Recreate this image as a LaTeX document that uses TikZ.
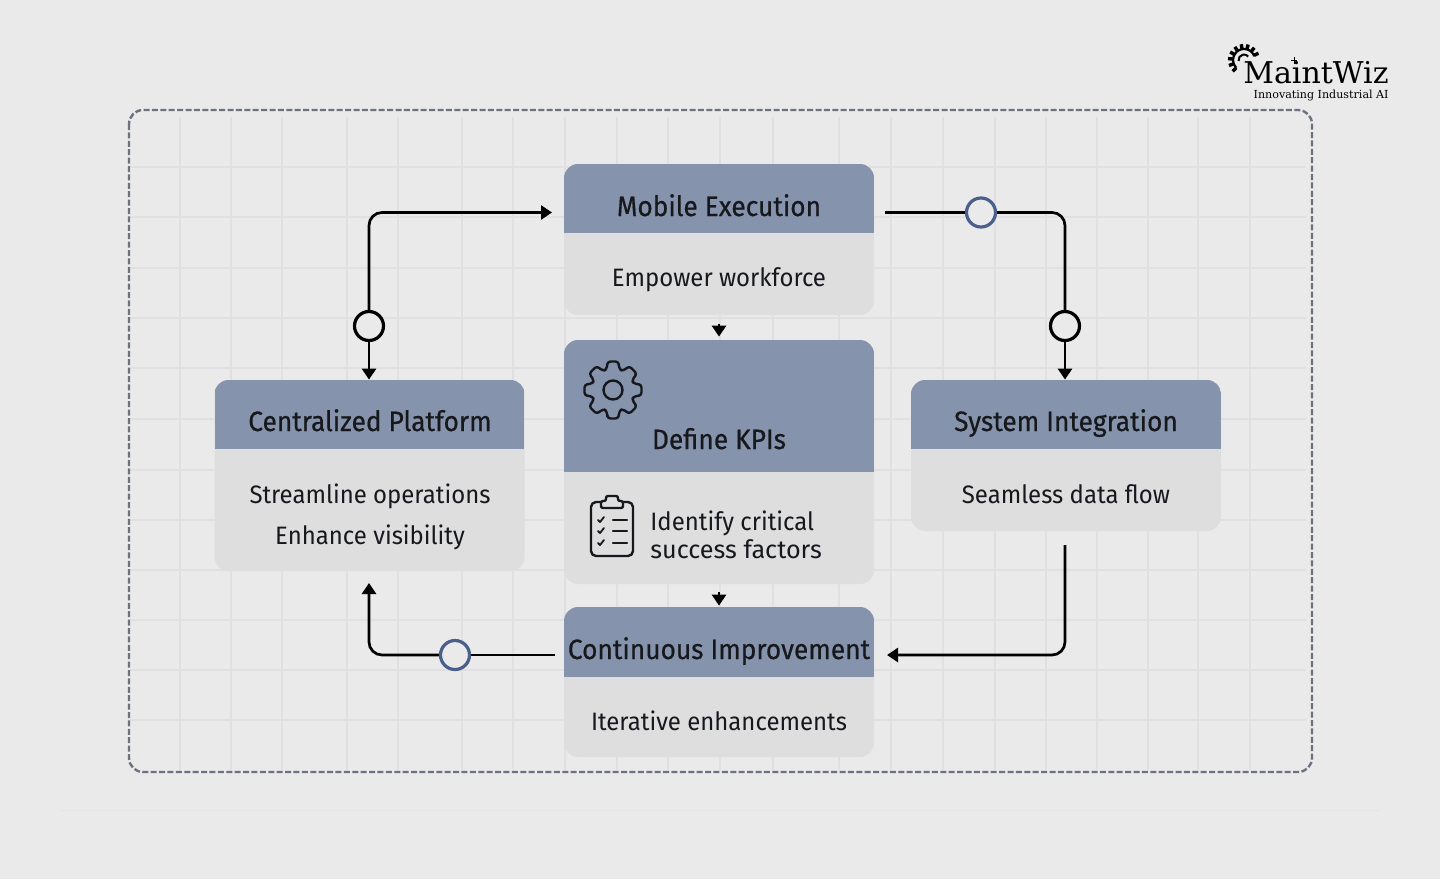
\documentclass[tikz,border=0pt]{standalone}
\usepackage{fontspec}
\setmainfont[FakeStretch=0.95]{Fira Sans}
\newfontfamily\logofont{DejaVu Serif}
\newfontfamily\headfont[FakeBold=0.5,FakeStretch=0.94]{Fira Sans}
\definecolor{pagegrey}{HTML}{EAEAEB}
\definecolor{gridgrey}{HTML}{E0E0E2}
\definecolor{framegrey}{HTML}{6C7280}
\definecolor{headblue}{HTML}{8593AD}
\definecolor{bodygrey}{HTML}{DEDEDF}
\definecolor{inkblack}{HTML}{16181C}
\definecolor{ringblue}{HTML}{4A5F8C}
\usetikzlibrary{arrows.meta}
\tikzset{
  card/.style 2 args={rectangle, rounded corners=7pt, fill=bodygrey, inner sep=0pt, minimum width=155pt, minimum height=#1,
    path picture={\fill[headblue, sharp corners] (path picture bounding box.north west) rectangle ([yshift=-#2]path picture bounding box.north east);}},
  headtext/.style={font=\headfont\fontsize{14}{16}\selectfont, text=inkblack, inner sep=0pt, anchor=base},
  bodytext/.style={font=\fontsize{12.6}{14}\selectfont, text=inkblack, inner sep=0pt, anchor=base},
  flow/.style={line width=1.35pt, draw=black, rounded corners=6.5pt, -{Triangle[length=5.5pt,width=7pt]}},
  wire/.style={line width=1.35pt, draw=black, rounded corners=6.5pt},
  ring/.style={circle, draw=black, fill=pagegrey, line width=1.6pt, minimum size=14.5pt, inner sep=0pt},
  bluering/.style={ring, draw=ringblue},
  icon/.style={line width=1.2pt, draw=inkblack, line join=round, line cap=round}
}
\begin{document}
\begin{tikzpicture}[x=0.5pt, y=-0.5pt]
\useasboundingbox (0,0) rectangle (1440,879);
\fill[pagegrey] (0,0) rectangle (1440,879);
\draw[gridgrey!50!pagegrey, line width=0.5pt] (60,810) -- (1380,810);

% grid
\foreach \gx in {180,231,282,347,398,462,513,565,617,668,720,773,839,891,943,995,1046,1097,1148,1198,1250}
  \draw[gridgrey, line width=0.6pt] (\gx,117) -- (\gx,770);
\foreach \gy in {167,217,268,318,368,419,470,520,570,620,670,720}
  \draw[gridgrey, line width=0.6pt] (130,\gy) -- (1306,\gy);

\draw[framegrey, line width=1.2pt, dash pattern=on 3pt off 1.2pt, rounded corners=7pt] (129,110) rectangle (1312,772);

% cards
\node[card={75.5pt}{34.5pt}] (mobile) at (719,239.5) {};
\node[card={122pt}{66pt}] (kpi) at (719,462) {};
\node[card={75pt}{35pt}] (improve) at (719,682) {};
\node[card={95.5pt}{34.5pt}] (platform) at (369.5,475.5) {};
\node[card={75.5pt}{34.5pt}] (integration) at (1066,455.5) {};

% card texts
\node[headtext] (mobilehead) at (719,216) {Mobile Execution};
\node[bodytext] (mobilebody) at (719,286) {Empower workforce};
\node[headtext] (kpihead) at (719,449) {Define KPIs};
\node[bodytext, anchor=base west] (kpione) at (650,530) {Identify critical};
\node[bodytext, anchor=base west] (kpitwo) at (650,558) {\addfontfeature{FakeStretch=1.0}success factors};
\node[headtext] (improvehead) at (719,659) {Continuous Improvement};
\node[bodytext] (improvebody) at (719,730) {Iterative enhancements};
\node[headtext] (platformhead) at (370,431) {Centralized Platform};
\node[bodytext] (platformone) at (370,503) {Streamline operations};
\node[bodytext] (platformtwo) at (370,544) {Enhance visibility};
\node[headtext] (integrationhead) at (1066,431) {System Integration};
\node[bodytext] (integrationbody) at (1066,503) {Seamless data flow};

% gear icon
\begin{scope}[shift={(613,390)}]
\draw[icon] (0,0) circle (9.5);
\draw[icon, rounded corners=1.5pt] (101:29)
  \foreach \a in {90,45,0,-45,-90,-135,-180,-225} { -- (\a+11:29) -- (\a-11:29) -- (\a-17:21.5) -- (\a-28:21.5) } -- cycle;
\end{scope}

% clipboard icon
\draw[icon, rounded corners=2.5pt] (601,502) -- (591,502) -- (591,556) -- (633,556) -- (633,502) -- (623,502);
\draw[icon, rounded corners=1pt, fill=bodygrey] (601,508) -- (601,501) -- (606,501) -- (606,496) -- (618,496) -- (618,501) -- (623,501) -- (623,508) -- cycle;
\foreach \ty in {520,531,543} {
  \draw[icon, line width=0.9pt] (598,\ty) -- (600,\ty+2) -- (604,\ty-3);
  \draw[icon] (613,\ty) -- (627,\ty);
}

% connectors
\coordinate (mobilein) at (552,212.5);
\coordinate (mobileout) at (885,212.5);
\coordinate (integrationout) at (1065,545);
\coordinate (improvein) at (887,655);
\coordinate (improveout) at (555,655);
\coordinate (platformin) at (369,583);
\node[ring] (ringleft) at (369,326) {};
\node[ring] (ringright) at (1065,326) {};
\node[bluering] (ringtop) at (981,212.5) {};
\node[bluering] (ringbottom) at (455,655) {};

\draw[flow] (ringleft) -- (369,212.5) -- (mobilein);
\draw[flow] (ringleft) -- (platform.north -| ringleft);
\draw[wire] (mobileout) -- (ringtop);
\draw[wire] (ringtop) -- (1065,212.5) -- (ringright);
\draw[flow] (ringright) -- (integration.north -| ringright);
\draw[flow] (integrationout) -- (1065,655) -- (improvein);
\draw[wire] (improveout) -- (ringbottom);
\draw[flow] (ringbottom) -- (369,655) -- (platformin);

\coordinate (mobilestub) at (719,324);
\coordinate (kpistub) at (719,592);
\draw[flow, shorten >=1.5pt] (mobilestub) -- (kpi.north);
\draw[flow, shorten >=0.5pt] (kpistub) -- (improve.north);

% logo
\node[font=\logofont\fontsize{15}{16}\selectfont, text=black, inner sep=0pt, anchor=base east] (logoname) at (1389,83) {MaintWiz};
\node[font=\logofont\fontsize{5.55}{7}\selectfont, text=black, inner sep=0pt, anchor=base east] (logotag) at (1389,98) {Innovating Industrial AI};
\begin{scope}[shift={(1244,60)}]
\draw[line width=1.1pt] (-225:11) arc (-225:-20:11);
\draw[line width=1pt] (-190:5.5) arc (-190:-40:5.5);
\foreach \a in {-225,-200,...,-20}
  \draw[line width=1.7pt] (\a:11) -- (\a:16);
\end{scope}
\draw[line width=0.5pt] (1294,57) -- (1294,64) (1291,60.5) -- (1297,60.5);
\end{tikzpicture}
\end{document}
